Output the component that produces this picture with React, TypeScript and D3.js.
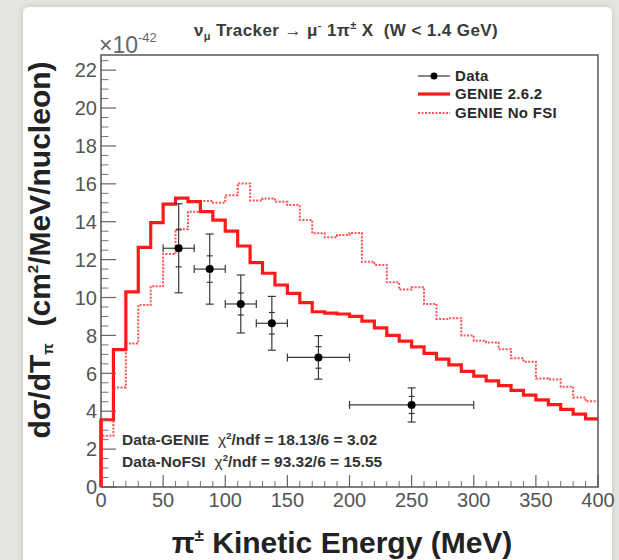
import React from "react";
import * as d3 from "d3";

// ---- data ----
const binEdgesStep = 10; // MeV per bin
const genie262 = [
  3.55, 7.25, 10.3, 12.65, 13.95, 14.93, 15.25, 15.06, 14.53, 14.09,
  13.5, 12.72, 11.84, 11.28, 10.66, 10.22, 9.73, 9.25, 9.18, 9.13,
  9.0, 8.75, 8.4, 8.0, 7.7, 7.4, 7.05, 6.75, 6.45, 6.1,
  5.85, 5.6, 5.35, 5.1, 4.85, 4.6, 4.35, 4.1, 3.85, 3.6,
];
const genieNoFSI = [
  2.7, 5.25, 7.58, 9.6, 10.6, 12.3, 13.6, 14.53, 15.1, 15.0,
  15.4, 16.02, 15.12, 15.23, 15.06, 14.88, 14.09, 13.39, 13.18, 13.3,
  13.4, 11.89, 11.72, 10.8, 10.42, 10.54, 9.66, 8.87, 8.9, 8.0,
  7.72, 7.62, 7.27, 6.79, 6.61, 5.72, 5.68, 5.29, 4.72, 4.52,
];
const dataCenters = [62.5, 87.5, 112.5, 137.5, 175, 250];
const dataHalfWidths = [12.5, 12.5, 12.5, 12.5, 25, 50];
const dataValues = [12.6, 11.5, 9.66, 8.64, 6.84, 4.33];
const dataTotalErr = [2.35, 1.85, 1.53, 1.42, 1.15, 0.9];
const dataStatErr = [0.98, 0.7, 0.58, 0.57, 0.57, 0.45];
const xTicks = [0, 50, 100, 150, 200, 250, 300, 350, 400];
const yTicks = [0, 2, 4, 6, 8, 10, 12, 14, 16, 18, 20, 22];
const legendLabels = ["Data", "GENIE 2.6.2", "GENIE No FSI"];
const chiLines = [
  { name: "Data-GENIE", chi: "18.13/6 = 3.02" },
  { name: "Data-NoFSI", chi: "93.32/6 = 15.55" },
];

const FONT = "'Liberation Sans', Arial, Helvetica, sans-serif";
const RED = "#ff1a1a";

export default function App() {
  const x = d3.scaleLinear().domain([0, 400]).range([101, 598]);
  const y = d3.scaleLinear().domain([0, 22.8]).range([487, 55]);
  const [x0, x1] = x.range();
  const [yb, yt] = y.range();

  const histPath = (vals: number[]) => {
    const p = d3.path();
    p.moveTo(x(0), y(0));
    vals.forEach((v, i) => {
      const a = i * binEdgesStep;
      p.lineTo(x(a), y(v));
      p.lineTo(x(a + binEdgesStep), y(v));
    });
    return p.toString();
  };

  const yMinor = d3.range(0, 22.81, 0.5).filter((v) => v % 2 !== 0);
  const xMinor = d3.range(0, 401, 10).filter((v) => v % 50 !== 0);

  const legY = [76, 94, 113];

  return (
    <div style={{ position: "absolute", left: 0, top: 0 }}>
      <svg width={619} height={560} style={{ display: "block" }}>
        <defs>
          <filter id="sh" x="-5%" y="-5%" width="110%" height="110%">
            <feDropShadow dx="0" dy="0" stdDeviation="3" floodColor="#000" floodOpacity="0.15" />
          </filter>
        </defs>
        <rect x={0} y={0} width={619} height={560} fill="#e6e4de" />
        <rect x={23} y={7} width={589} height={570} rx={6} fill="#ffffff" filter="url(#sh)" />

        {/* title */}
        <text x={346} y={36} textAnchor="middle" fontFamily={FONT} fontWeight="bold" fontSize={17} letterSpacing={0.4} fill="#3a3a3a" xmlSpace="preserve">
          ν<tspan fontSize={11} dy={4}>μ</tspan>
          <tspan dy={-4}> Tracker → μ</tspan>
          <tspan fontSize={11} dy={-7}>-</tspan>
          <tspan dy={7}> 1π</tspan>
          <tspan fontSize={11} dy={-7}>±</tspan>
          <tspan dy={7}> X  (W &lt; 1.4 GeV)</tspan>
        </text>

        {/* x10^-42 */}
        <text x={99} y={53} fontFamily={FONT} fontSize={23} fill="#666">
          ×10<tspan fontSize={13} dy={-11}>-42</tspan>
        </text>

        {/* histograms */}
        <path d={histPath(genieNoFSI)} fill="none" stroke={RED} strokeOpacity={0.75} strokeWidth={2} strokeDasharray="2,1.5" />
        <path d={histPath(genie262)} fill="none" stroke={RED} strokeWidth={3.2} />

        {/* axis ticks */}
        {yTicks.map((v) => (
          <line key={"ym" + v} x1={x0} x2={x0 + 15} y1={y(v)} y2={y(v)} stroke="#666" strokeWidth={1.2} />
        ))}
        {yMinor.map((v) => (
          <line key={"yn" + v} x1={x0} x2={x0 + 7.5} y1={y(v)} y2={y(v)} stroke="#777" strokeWidth={1} />
        ))}
        {xTicks.map((v) => (
          <line key={"xm" + v} x1={x(v)} x2={x(v)} y1={yb} y2={yb - 12} stroke="#666" strokeWidth={1.2} />
        ))}
        {xMinor.map((v) => (
          <line key={"xn" + v} x1={x(v)} x2={x(v)} y1={yb} y2={yb - 6} stroke="#777" strokeWidth={1} />
        ))}

        {/* frame */}
        <rect x={x0} y={yt} width={x1 - x0} height={yb - yt} fill="none" stroke="#555" strokeWidth={1.5} />
        <path d={`M${x(0)},${y(0)}V${y(genie262[0])}`} stroke={RED} strokeWidth={3.2} />

        {/* data points */}
        {dataCenters.map((c, i) => {
          const cx = x(c);
          const cy = y(dataValues[i]);
          const xl = x(c - dataHalfWidths[i]);
          const xr = x(c + dataHalfWidths[i]);
          const yhi = y(dataValues[i] + dataTotalErr[i]);
          const ylo = y(dataValues[i] - dataTotalErr[i]);
          const shi = y(dataValues[i] + dataStatErr[i]);
          const slo = y(dataValues[i] - dataStatErr[i]);
          const cap = 4;
          return (
            <g key={"d" + i} stroke="#3a3a3a" strokeWidth={1.2}>
              <line x1={xl} x2={xr} y1={cy} y2={cy} />
              <line x1={cx} x2={cx} y1={yhi} y2={ylo} />
              <line x1={xl} x2={xl} y1={cy - cap} y2={cy + cap} />
              <line x1={xr} x2={xr} y1={cy - cap} y2={cy + cap} />
              <line x1={cx - cap} x2={cx + cap} y1={yhi} y2={yhi} />
              <line x1={cx - cap} x2={cx + cap} y1={ylo} y2={ylo} />
              <line x1={cx - 3} x2={cx + 3} y1={shi} y2={shi} />
              <line x1={cx - 3} x2={cx + 3} y1={slo} y2={slo} />
              <circle cx={cx} cy={cy} r={4} fill="#000" stroke="none" />
            </g>
          );
        })}

        {/* tick labels */}
        {yTicks.map((v) => (
          <text key={"yl" + v} x={97} y={y(v)} dy="0.36em" textAnchor="end" fontFamily={FONT} fontSize={20} fill="#555">
            {v}
          </text>
        ))}
        {xTicks.map((v) => (
          <text key={"xl" + v} x={x(v)} y={507} textAnchor="middle" fontFamily={FONT} fontSize={20} fill="#555">
            {v}
          </text>
        ))}

        {/* axis titles */}
        <text x={342} y={553} textAnchor="middle" fontFamily={FONT} fontWeight="bold" fontSize={30} fill="#222">
          π<tspan fontSize={17} dy={-12}>±</tspan>
          <tspan dy={12}> Kinetic Energy (MeV)</tspan>
        </text>
        <text transform="translate(50,250) rotate(-90)" textAnchor="middle" fontFamily={FONT} fontWeight="bold" fontSize={30} fill="#222" xmlSpace="preserve">
          dσ/dT<tspan fontSize={15} dy={3}>π</tspan>
          <tspan dy={-3}>  (cm</tspan>
          <tspan fontSize={15} dy={-12}>2</tspan>
          <tspan dy={12}>/MeV/nucleon)</tspan>
        </text>

        {/* legend */}
        <g fontFamily={FONT} fontWeight="bold" fontSize={15} letterSpacing={0.3} fill="#2a2a2a">
          <line x1={418} x2={450} y1={legY[0]} y2={legY[0]} stroke="#333" strokeWidth={1.2} />
          <circle cx={434} cy={legY[0]} r={3.5} fill="#000" />
          <line x1={418} x2={450} y1={legY[1]} y2={legY[1]} stroke={RED} strokeWidth={3.2} />
          <line x1={418} x2={450} y1={legY[2]} y2={legY[2]} stroke={RED} strokeOpacity={0.75} strokeWidth={2} strokeDasharray="2,1.5" />
          {legendLabels.map((l, i) => (
            <text key={l} x={455} y={legY[i] + 5}>
              {l}
            </text>
          ))}
        </g>

        {/* chi2 annotations */}
        <g fontFamily={FONT} fontWeight="bold" fontSize={15.5} fill="#333">
          {chiLines.map((c, i) => (
            <text key={c.name} x={122} y={445 + i * 22}>
              {c.name}
              <tspan fontWeight="normal" dx={9}>χ</tspan>
              <tspan fontSize={9.5} dy={-6}>2</tspan>
              <tspan dy={6}>/ndf = {c.chi}</tspan>
            </text>
          ))}
        </g>
      </svg>
    </div>
  );
}
